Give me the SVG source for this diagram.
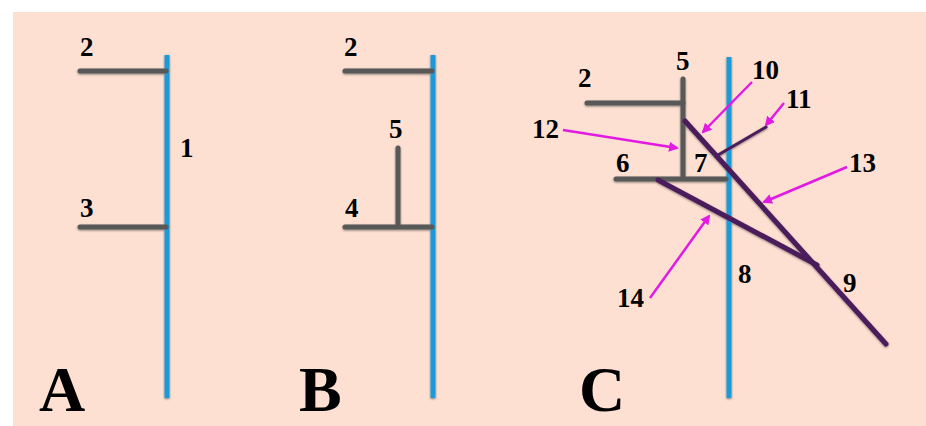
<svg xmlns="http://www.w3.org/2000/svg" width="926" height="426" viewBox="0 0 926 426">
<defs>
<style>
.bg{fill:#fde0d2}
.blue{stroke:#1a9ad8;stroke-width:5;fill:none}
.gray{stroke:#585858;stroke-width:5;fill:none;stroke-linecap:round}
.purple{stroke:#4b1c5c;stroke-width:5;fill:none;stroke-linecap:round}
.purple-thin{stroke:#4b1c5c;stroke-width:3;fill:none;stroke-linecap:round}
.arrow{stroke:#e21ae2;stroke-width:2.5;fill:none;marker-end:url(#ah)}
.num{font-family:"Liberation Serif",serif;font-weight:bold;font-size:27px;fill:#000}
.big{font-family:"Liberation Serif",serif;font-weight:bold;font-size:64px;fill:#000}
</style>
<marker id="ah" markerWidth="10" markerHeight="10" refX="8" refY="5" orient="auto" markerUnits="userSpaceOnUse" viewBox="0 0 10 10">
<path d="M0,0 L10,5 L0,10 z" fill="#e21ae2"/>
</marker>
<filter id="sh" x="-10%" y="-10%" width="120%" height="120%">
<feDropShadow dx="0" dy="1" stdDeviation="0.8" flood-color="#000" flood-opacity="0.45"/>
</filter>
</defs>
<rect class="bg" x="13" y="12" width="913" height="414"/>

<g id="panelA" filter="url(#sh)">
<line class="blue" x1="167" y1="55" x2="167" y2="398"/>
<line class="gray" x1="80" y1="71" x2="166" y2="71"/>
<line class="gray" x1="80" y1="227" x2="166" y2="227"/>
</g>
<g id="panelB" filter="url(#sh)">
<line class="blue" x1="433" y1="55" x2="433" y2="398"/>
<line class="gray" x1="345" y1="71" x2="432" y2="71"/>
<line class="gray" x1="398" y1="148" x2="398" y2="226"/>
<line class="gray" x1="345" y1="227" x2="432" y2="227"/>
</g>
<g id="panelC" filter="url(#sh)">
<line class="blue" x1="729" y1="57" x2="729" y2="398"/>
<line class="gray" x1="587" y1="103" x2="683" y2="103"/>
<line class="gray" x1="683" y1="79" x2="683" y2="178"/>
<line class="gray" x1="616" y1="179" x2="726" y2="179"/>
<line class="purple" x1="685" y1="121" x2="886" y2="344"/>
<line class="purple" x1="658" y1="180" x2="817" y2="265"/>
<line class="purple-thin" x1="718" y1="155" x2="766" y2="127"/>
</g>

<g id="connectors">
<line class="arrow" x1="752" y1="82" x2="703" y2="132"/>
<line class="arrow" x1="784" y1="103" x2="766" y2="125"/>
<line class="arrow" x1="563" y1="130" x2="677" y2="148"/>
<line class="arrow" x1="847" y1="167" x2="764" y2="202"/>
<line class="arrow" x1="650" y1="298" x2="709" y2="216"/>
</g>

<g id="labels">
<text class="num" x="80" y="56">2</text>
<text class="num" x="180" y="157">1</text>
<text class="num" x="80" y="217">3</text>
<text class="num" x="344" y="56">2</text>
<text class="num" x="389" y="138">5</text>
<text class="num" x="345" y="217">4</text>
<text class="num" x="676" y="70">5</text>
<text class="num" x="578" y="87">2</text>
<text class="num" x="752" y="79">10</text>
<text class="num" x="786" y="108">11</text>
<text class="num" x="532" y="138">12</text>
<text class="num" x="616" y="172">6</text>
<text class="num" x="694" y="172">7</text>
<text class="num" x="849" y="172">13</text>
<text class="num" x="617" y="307">14</text>
<text class="num" x="738" y="283">8</text>
<text class="num" x="843" y="292">9</text>
<text class="big" x="39" y="411">A</text>
<text class="big" x="299" y="411">B</text>
<text class="big" x="579" y="411">C</text>
</g>
</svg>
